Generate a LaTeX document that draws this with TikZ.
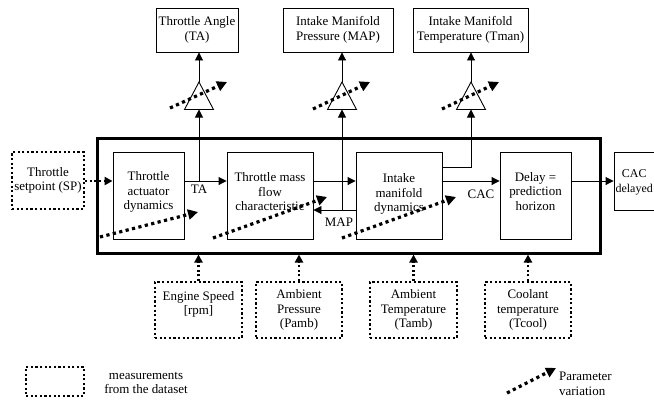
\documentclass[tikz,border=0pt]{standalone}
\usepackage{fontspec}
\setmainfont{Liberation Serif}
\usetikzlibrary{arrows.meta,calc}
\begin{document}
\begin{tikzpicture}[x=1bp,y=-1bp,
  every node/.style={font=\fontsize{13}{14.5}\selectfont},
  blk/.style={draw,line width=0.9bp,align=center,inner sep=0pt},
  meas/.style={draw,line width=2.2bp,dash pattern=on 2.2bp off 2.4bp,align=center,inner sep=0pt},
  sig/.style={line width=0.9bp,-{Triangle[length=8bp,width=8bp]}},
  msig/.style={line width=2.2bp,dash pattern=on 2.2bp off 2.4bp,-{Triangle[length=8bp,width=8bp]}},
  pvar/.style={line width=3.2bp,dash pattern=on 3.2bp off 3.4bp,-{Triangle[length=10bp,width=10bp]}},
  tri/.style={line width=0.9bp},
  lbl/.style={inner sep=0pt,align=center}]
\useasboundingbox (0,0) rectangle (654,400);
\clip (0,0) rectangle (654,400);

% system frame
\node[draw,line width=3bp,minimum width=502bp,minimum height=115bp,inner sep=0pt] (sys) at (349,195.5) {};

% blocks
\node[blk,minimum width=71bp,minimum height=87bp] (tad) at (148.5,195.5) {};
\node[lbl] at (148.5,192) {Throttle\\actuator\\dynamics};
\node[blk,minimum width=86bp,minimum height=87bp] (tmf) at (270,195.5) {};
\node[lbl] at (270,192) {Throttle mass\\flow\\characteristic};
\node[blk,minimum width=86bp,minimum height=87bp] (imd) at (399,195.5) {};
\node[lbl] at (399,194) {Intake\\manifold\\dynamics};
\node[blk,minimum width=71bp,minimum height=87bp] (dly) at (535.5,195.5) {};
\node[lbl] at (535.5,191.5) {Delay =\\prediction\\horizon};
\node[blk,minimum width=46bp,minimum height=58bp] (cacd) at (637,181) {};
\node[lbl,anchor=east,font=\fontsize{12}{14.5}\selectfont] at (653,182.5) {CAC\\delayed};

% setpoint
\node[meas,minimum width=72bp,minimum height=57bp] (sp) at (48,180.5) {Throttle\\setpoint (SP)};

% outputs
\node[blk,minimum width=82bp,minimum height=44bp] (ta) at (197,30) {Throttle Angle\\(TA)};
\node[blk,minimum width=110bp,minimum height=44bp] (map) at (338,30) {Intake Manifold\\Pressure (MAP)};
\node[blk,minimum width=115bp,minimum height=44bp] (tman) at (470.5,30) {Intake Manifold\\Temperature (Tman)};

% measurements
\node[meas,minimum width=87bp,minimum height=56bp] (es) at (198.5,310) {Engine Speed\\{}[rpm]\\\mbox{}};
\node[meas,minimum width=86bp,minimum height=56bp] (pamb) at (299,310) {Ambient\\Pressure\\(Pamb)};
\node[meas,minimum width=87bp,minimum height=56bp] (tamb) at (413.5,310) {Ambient\\Temperature\\(Tamb)};
\node[meas,minimum width=86bp,minimum height=56bp] (tcool) at (528,310) {Coolant\\temperature\\(Tcool)};

% triangles
\coordinate (t1a) at (199,82); \coordinate (t1b) at (199,109.5);
\coordinate (t2a) at (342,82); \coordinate (t2b) at (342,109.5);
\coordinate (t3a) at (471,82); \coordinate (t3b) at (471,109.5);
\foreach \t in {t1,t2,t3}{
  \draw[tri,fill=white] (\t a) -- ($(\t b)+(-14.5,0)$) -- ($(\t b)+(14.5,0)$) -- cycle;
}

% main signal path
\coordinate (main) at (0,181);
\draw[msig] (sp.east |- main) -- (tad.west |- main);
\draw[sig] (tad.east |- main) -- (tmf.west |- main);
\draw[sig] (tmf.east |- main) -- (imd.west |- main);
\draw[sig] (imd.east |- main) -- (dly.west |- main);
\draw[sig] (dly.east |- main) -- (cacd.west |- main);

% TA branch
\coordinate (j1) at (199,181);
\draw[sig] (j1) -- (t1b);
\draw[sig] (t1a) -- (ta.south -| t1a);
\node[lbl] (talbl) at (199,189.5) {TA};

% MAP feedback
\coordinate (mapy) at (0,210);
\coordinate (j2) at (342,210);
\draw[sig] (imd.west |- mapy) -- (tmf.east |- mapy);
\draw[sig] (j2) -- (t2b);
\draw[sig] (t2a) -- (map.south -| t2a);
\node[lbl] (maplbl) at (339,222.5) {MAP};

% Tman branch
\coordinate (j3) at (471,167);
\draw[sig] (imd.east |- j3) -- (j3) -- (t3b);
\draw[sig] (t3a) -- (tman.south -| t3a);

\node[lbl] (caclbl) at (481,194.5) {CAC};

% measurement arrows
\draw[msig] (es.north) -- (es.north |- sys.south);
\draw[msig] (pamb.north) -- (pamb.north |- sys.south);
\draw[msig] (tamb.north) -- (tamb.north |- sys.south);
\draw[msig] (tcool.north) -- (tcool.north |- sys.south);

% parameter variations
\coordinate (p1s) at (100,237); \coordinate (p1e) at (198,212);
\coordinate (p2s) at (213,238); \coordinate (p2e) at (327,197);
\coordinate (p3s) at (342,238); \coordinate (p3e) at (456,197);
\coordinate (p4s) at (170,108); \coordinate (p4e) at (227,82);
\coordinate (p5s) at (313,109); \coordinate (p5e) at (370,82);
\coordinate (p6s) at (442,109); \coordinate (p6e) at (499,82);
\foreach \p in {p1,p2,p3,p4,p5,p6}{
  \draw[pvar] (\p s) -- (\p e);
}

% legend
\node[meas,minimum width=58bp,minimum height=29bp] (lgbox) at (55,381.5) {};
\node[lbl] (lgtext) at (146,383) {measurements\\from the dataset};
\coordinate (lps) at (507,393); \coordinate (lpe) at (556,368);
\draw[pvar] (lps) -- (lpe);
\node[lbl,anchor=west,align=left] (lptext) at (559,384) {Parameter\\variation};
\end{tikzpicture}
\end{document}
